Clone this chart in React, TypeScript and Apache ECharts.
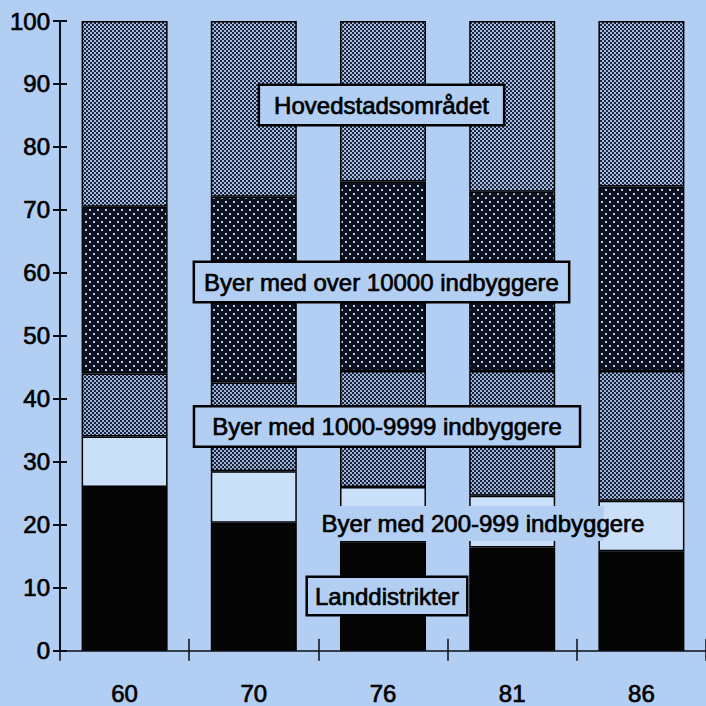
import React, { useEffect, useRef } from "react";
import * as echarts from "echarts";

const years = ["60", "70", "76", "81", "86"];
const landdistrikter = [26, 20.3, 17.2, 16.4, 15.8];
const byer200 = [8, 8.2, 8.8, 8.2, 8];
const byer1000 = [10, 14.1, 18.4, 19.8, 20.6];
const byer10000 = [26.5, 29.5, 30.1, 28.5, 29.3];
const hovedstad = [29.5, 27.9, 25.5, 27.1, 26.3];

const seriesNames = [
  "Landdistrikter",
  "Byer med 200-999 indbyggere",
  "Byer med 1000-9999 indbyggere",
  "Byer med over 10000 indbyggere",
  "Hovedstadsområdet",
];

const FONT = "'Liberation Sans', Arial, Helvetica, sans-serif";
const BG = "#b2cff3";
const INK = "#0a0e18";

function checkerTile(light: string, dark: string) {
  const c = document.createElement("canvas");
  c.width = 4;
  c.height = 4;
  const ctx = c.getContext("2d")!;
  ctx.fillStyle = light;
  ctx.fillRect(0, 0, 4, 4);
  ctx.fillStyle = dark;
  ctx.fillRect(0, 0, 2, 2);
  ctx.fillRect(2, 2, 2, 2);
  return { image: c, repeat: "repeat" as const };
}

function dotTile(base: string, dot: string) {
  const c = document.createElement("canvas");
  c.width = 8;
  c.height = 8;
  const ctx = c.getContext("2d")!;
  ctx.fillStyle = base;
  ctx.fillRect(0, 0, 8, 8);
  ctx.fillStyle = dot;
  ctx.fillRect(1, 1, 2, 2);
  ctx.fillRect(5, 5, 2, 2);
  return { image: c, repeat: "repeat" as const };
}

export default function App() {
  const ref = useRef<HTMLDivElement>(null);
  useEffect(() => {
    const chart = echarts.init(ref.current!, null, { renderer: "svg" });
    const fills: any[] = [
      "#050505",
      "#cadff8",
      checkerTile("#9cb2d6", "#1a2238"),
      dotTile("#0c1120", "#b8c8e4"),
      checkerTile("#a6bbdc", "#1d2640"),
    ];
    const values = [landdistrikter, byer200, byer1000, byer10000, hovedstad];

    const boxLabel = (text: string, x: number, y: number, padding: number[], border = true) => ({
      type: "text",
      x,
      y,
      z: 100,
      style: {
        text,
        fontSize: 24,
        fontFamily: FONT,
        fill: "#000",
        stroke: "#000",
        lineWidth: 0.7,
        align: "center",
        verticalAlign: "middle",
        backgroundColor: border ? BG : undefined,
        borderColor: border ? "#000" : undefined,
        borderWidth: border ? 2.5 : 0,
        padding,
      },
    });

    const labelText = { color: "#000", fontSize: 24, fontFamily: FONT, textBorderColor: "#000", textBorderWidth: 0.7 };

    chart.setOption({
      animation: false,
      backgroundColor: BG,
      grid: { left: 60, right: -6, top: 21, bottom: 54 },
      xAxis: [
        {
          type: "category",
          data: years,
          position: "bottom",
          axisLine: { lineStyle: { color: INK, width: 1.5 } },
          axisTick: { show: true, length: 10, lineStyle: { color: INK, width: 1.5 } },
          axisLabel: { ...labelText, margin: 31 },
        },
        {
          type: "category",
          data: years,
          position: "bottom",
          axisLine: { show: false },
          axisTick: { show: true, inside: true, length: 12, lineStyle: { color: INK, width: 1.5 } },
          axisLabel: { show: false },
        },
      ],
      yAxis: [
        {
          type: "value",
          min: 0,
          max: 100,
          interval: 10,
          position: "left",
          splitLine: { show: false },
          axisLine: { show: true, lineStyle: { color: INK, width: 2 } },
          axisTick: { show: true, length: 7, lineStyle: { color: INK, width: 2 } },
          axisLabel: { ...labelText, margin: 10 },
        },
        {
          type: "value",
          min: 0,
          max: 100,
          interval: 10,
          position: "left",
          splitLine: { show: false },
          axisLine: { show: false },
          axisTick: { show: true, inside: true, length: 7, lineStyle: { color: INK, width: 2 } },
          axisLabel: { show: false },
        },
      ],
      series: values.map((v, i) => ({
        name: seriesNames[i],
        type: "bar",
        stack: "total",
        data: v,
        barWidth: 86,
        itemStyle: { color: fills[i], borderColor: "#000", borderWidth: 1.5 },
      })),
      graphic: [
        {
          type: "rect",
          z: 99,
          shape: { x: 318, y: 506, width: 286, height: 35 },
          style: { fill: BG },
        },
        boxLabel("Hovedstadsområdet", 381.5, 105, [7, 14]),
        boxLabel("Byer med over 10000 indbyggere", 381.5, 282, [7, 9]),
        boxLabel("Byer med 1000-9999 indbyggere", 387, 426.5, [7, 17]),
        boxLabel("Byer med 200-999 indbyggere", 483, 523, [5, 3], false),
        boxLabel("Landdistrikter", 387, 596, [6, 7]),
      ],
    });
    return () => chart.dispose();
  }, []);
  return <div ref={ref} style={{ width: 706, height: 706, position: "absolute", left: 0, top: 0 }} />;
}
